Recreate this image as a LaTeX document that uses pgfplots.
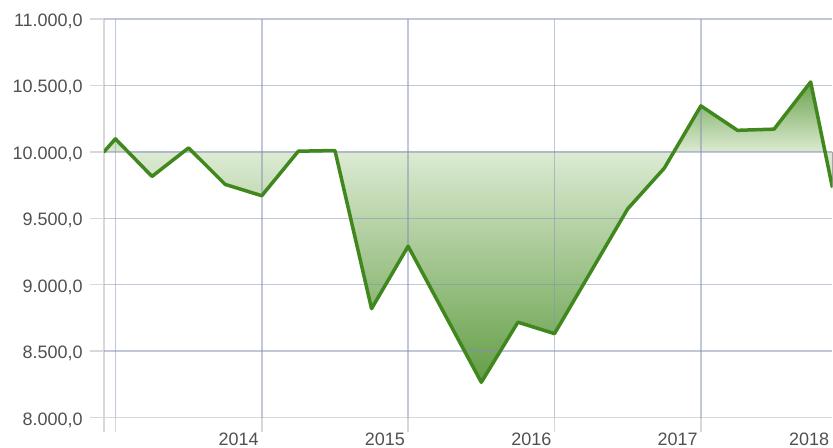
\documentclass[border=0pt]{standalone}
\usepackage{pgfplots}
\pgfplotsset{compat=1.18}
\usepgfplotslibrary{fillbetween}
\usepackage{fontspec}
\setmainfont{Liberation Sans}
\definecolor{gridov}{RGB}{133,143,181}
\definecolor{axc}{RGB}{216,216,216}
\definecolor{txt}{RGB}{80,80,80}
\definecolor{linec}{RGB}{64,136,30}
\pgfdeclareverticalshading{greenfill}{100bp}{rgb(0bp)=(0.392,0.62,0.275); rgb(25bp)=(0.392,0.62,0.275); rgb(63.3bp)=(0.863,0.918,0.824); rgb(75bp)=(0.42,0.64,0.3); rgb(100bp)=(0.42,0.64,0.3)}
\pgfplotsset{gl/.style={draw=gridov, draw opacity=0.5, line width=1.5bp, forget plot}}
\begin{document}
\begin{tikzpicture}
\path (0,0) rectangle (833bp,448bp);
\begin{axis}[name=ax,
  at={(104bp,30bp)}, anchor=south west,
  width=729bp, height=399bp, scale only axis,
  xmin=2012.9215, xmax=2017.8976,
  ymin=8000, ymax=11000,
  axis x line*=bottom, axis y line*=left,
  axis line style={draw=axc, line width=1.5bp},
  xtick={2013,2014,2015,2016,2017},
  xticklabels={,2014,2015,2016,2017},
  extra x ticks={2012.9215}, extra x tick labels={},
  ytick={8000,8500,...,11000},
  scaled y ticks=false,
  tick align=outside,
  major tick length=14bp,
  tick style={draw=axc, line width=1.5bp},
  tick label style={font=\fontsize{18bp}{20bp}\selectfont, text=txt},
  /pgf/number format/assume math mode=true,
  yticklabel={\pgfmathprintnumber[fixed, fixed zerofill, precision=1, use comma, 1000 sep={.}]{\tick}},
  yticklabel style={anchor=base east, inner sep=0pt, xshift=-7bp, yshift=-7.5bp},
  xticklabel style={anchor=north east, inner sep=0pt, xshift=-3bp, yshift=-1bp},
]
\addplot[draw=none, name path=base, forget plot] coordinates {(2012.9215,10000) (2017.8976,10000)};
\addplot[draw=none, name path=line, forget plot] coordinates {
(2012.9215,10000) (2013.0,10098) (2013.25,9815) (2013.5,10030) (2013.75,9755)
(2014.0,9670) (2014.25,10005) (2014.5,10010) (2014.75,8820) (2015.0,9290)
(2015.5,8266) (2015.75,8718) (2016.0,8632) (2016.5,9571) (2016.75,9877)
(2017.0,10346) (2017.25,10162) (2017.5,10171) (2017.75,10526) (2017.8976,9737)};
\addplot[shade, shading=greenfill, draw=none] fill between[of=line and base];
\addplot[gl] coordinates {(2012.9215,8500) (2017.8976,8500)};
\addplot[gl] coordinates {(2012.9215,9000) (2017.8976,9000)};
\addplot[gl] coordinates {(2012.9215,9500) (2017.8976,9500)};
\addplot[gl] coordinates {(2012.9215,10000) (2017.8976,10000)};
\addplot[gl] coordinates {(2012.9215,10500) (2017.8976,10500)};
\addplot[gl] coordinates {(2012.9215,11000) (2017.8976,11000)};
\addplot[gl] coordinates {(2013,8000) (2013,11000)};
\addplot[gl] coordinates {(2014,8000) (2014,11000)};
\addplot[gl] coordinates {(2015,8000) (2015,11000)};
\addplot[gl] coordinates {(2016,8000) (2016,11000)};
\addplot[gl] coordinates {(2017,8000) (2017,11000)};
\addplot[color=linec, line width=3.5bp, line join=round, line cap=round] coordinates {
(2012.9215,10000) (2013.0,10098) (2013.25,9815) (2013.5,10030) (2013.75,9755)
(2014.0,9670) (2014.25,10005) (2014.5,10010) (2014.75,8820) (2015.0,9290)
(2015.5,8266) (2015.75,8718) (2016.0,8632) (2016.5,9571) (2016.75,9877)
(2017.0,10346) (2017.25,10162) (2017.5,10171) (2017.75,10526) (2017.8976,9737)};
\end{axis}
\node[anchor=north east, inner sep=0pt, text=txt, font=\fontsize{18bp}{20bp}\selectfont] at (830bp,15bp) {2018};
\end{tikzpicture}
\end{document}
